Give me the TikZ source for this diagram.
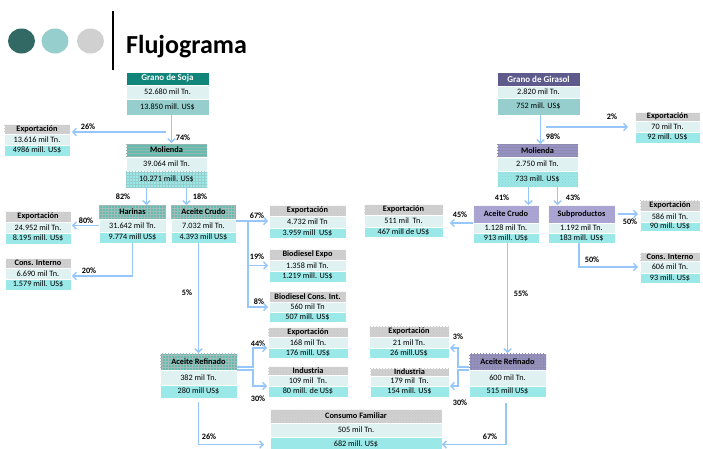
\documentclass[tikz,border=0pt]{standalone}
\usepackage{fontspec}
\setmainfont{Carlito}
\usepackage{tikz}
\usetikzlibrary{positioning,arrows.meta,patterns}
\definecolor{flecha}{RGB}{150,198,250}
\definecolor{tealfuerte}{RGB}{18,133,122}
\definecolor{tealosc}{RGB}{50,105,100}
\definecolor{tealcl}{RGB}{150,205,205}
\definecolor{celeste}{RGB}{155,232,232}
\definecolor{filacl}{RGB}{223,241,241}
\definecolor{gris}{RGB}{208,208,208}
\definecolor{verdeh}{RGB}{100,188,175}
\definecolor{lila}{RGB}{95,90,140}
\definecolor{lilacl}{RGB}{168,163,212}
\definecolor{lilamed}{RGB}{150,145,195}

\tikzset{
  celda/.style={draw=white, line width=0.5pt, inner sep=0pt, outer sep=0pt, anchor=north west, font=\fontsize{8.2}{9.5}\selectfont},
  cab/.style={celda, font=\fontsize{8.3}{9.5}\selectfont\bfseries},
  hsoja/.style={cab, fill=tealfuerte, text=white, font=\fontsize{9}{10}\selectfont\bfseries},
  hgir/.style={cab, fill=lila, text=white, font=\fontsize{9}{10}\selectfont\bfseries},
  hgris/.style={cab, fill=gris, postaction={pattern=crosshatch dots, pattern color=gray!45}},
  hmol/.style={cab, fill=verdeh, postaction={pattern=horizontal lines, pattern color=tealosc!50}},
  hgrid/.style={cab, fill=verdeh, postaction={pattern=grid, pattern color=tealosc!45}},
  hmolg/.style={cab, fill=lilamed, postaction={pattern=horizontal lines, pattern color=lila!70}},
  hlav/.style={cab, fill=lilacl, postaction={pattern=crosshatch dots, pattern color=lila!50}},
  hgridg/.style={cab, fill=lilamed, postaction={pattern=grid, pattern color=lila!70}},
  fila/.style={celda, fill=filacl},
  vteal/.style={celda, fill=tealcl},
  vcel/.style={celda, fill=celeste},
  vgrid/.style={celda, fill=celeste, postaction={pattern=grid, pattern color=tealcl}},
  vdots/.style={celda, fill=celeste, postaction={pattern=crosshatch dots, pattern color=tealcl}},
  arr/.style={draw=flecha, line width=1.4pt, -{Straight Barb[length=3.5pt,width=7.5pt]}},
  pct/.style={font=\fontsize{8.2}{9}\selectfont\bfseries, inner sep=0pt}
}

\begin{document}
\begin{tikzpicture}[x=1pt,y=-1pt]
  \fill[white] (0,0) rectangle (703,448);
  \useasboundingbox (0,0) rectangle (703,448);
  % title
  \fill[tealosc] (21.5,41) ellipse (13.5 and 12.5);
  \fill[tealcl] (55,41) ellipse (13.5 and 12.5);
  \fill[gris] (90.5,41) ellipse (13.5 and 12.5);
  \draw[line width=2pt] (113,11) -- (113,70);
  \node[anchor=base west, inner sep=0pt, font=\fontsize{26}{30}\selectfont\bfseries] (titulo) at (126,53) {Flujograma};
  % boxes: name/left/right/top/head bottom/tons bottom/value bottom/head style/value style/title/tons/value
  \foreach \n/\xa/\xb/\ya/\yb/\yc/\yd/\hs/\vs/\tit/\txa/\txb in {
    gsoja/126/209/72/85/99/115/hsoja/vteal/Grano de Soja/52.680 mil Tn./13.850 mill. US\$,
    expA/4/70/124/134/145/156/hgris/vcel/Exportación/13.616 mil Tn./4986 mill. US\$,
    molS/126/207/143/157/171/187/hmol/vgrid/Molienda/39.064 mil  Tn./10.271 mill. US\$,
    har/99/166/205/219/232/243/hgrid/vcel/Harinas/31.642 mil Tn./9.774 mill US\$,
    acS/171/236/205/219/232/243/hgrid/vcel/Aceite Crudo/7.032 mil Tn./4.393 mill US\$,
    expH/5/71/211/222/233/244/hgris/vcel/Exportación/24.952 mil Tn./8.195 mill. US\$,
    ciH/5/71/258/268/279/290/hgris/vcel/Cons. Interno/6.690 mil Tn./1.579 mill. US\$,
    expAc/269/346/205/216/228/238/hgris/vcel/Exportación/4.732 mil Tn/3.959 mill~ US\$,
    bioE/269/346/249/260/271/282/hgris/vcel/Biodiesel Expo/1.358 mil Tn./1.219 mill. US\$,
    bioC/269/346/291/302/312/322/hgris/vcel/Biodiesel Cons. Int./560 mil Tn/507 mill. US\$,
    refS/160/237/353/370/385/398/hgrid/vcel/Aceite Refinado/382 mil Tn./280 mill US\$,
    expR/268/348/327/337/348/358/hgris/vcel/Exportación/168 mil Tn./176 mill. US\$,
    indS/268/348/366/375/386/397/hgris/vcel/Industria/109 mil~ Tn./80 mill. de US\$,
    cons/270/442/409/423/437/452/hgris/vcel/Consumo Familiar/505 mil Tn./682 mill. US\$,
    ggir/497/580/72/86/98/115/hgir/vteal/Grano de Girasol/2.820 mil Tn./752 mill. US\$,
    expG/635/700/112/121/132/143/hgris/vcel/Exportación/70 mil Tn./92 mill. US\$,
    molG/497/578/144/157/171/187/hmolg/vdots/Molienda/2.750 mil Tn./733 mill. US\$,
    acG/473/539/205/223/233/243/hlav/vcel/Aceite Crudo/1.128 mil Tn./913 mill. US\$,
    sub/548/615/205/223/233/243/hlav/vcel/Subproductos/1.192 mil Tn./183 mill. US\$,
    expAG/364/443/204/215/227/237/hgris/vcel/Exportación/511 mil~ Tn./467 mill de US\$,
    expSub/640/700/200/211/222/231/hgris/vcel/Exportación/586 mil Tn./90 mill. US\$,
    ciSub/640/700/252/261/273/283/hgris/vcel/Cons. Interno/606 mil Tn./93 mill. US\$,
    refG/469/546/353/370/386/397/hgridg/vcel/Aceite Refinado/600 mil Tn./515 mill US\$,
    expRG/369/449/326/337/348/358/hgris/vcel/Exportación/21 mil Tn./26 mill.US\$,
    indG/370/449/368/376/386/397/hgris/vcel/Industria/179 mil~ Tn./154 mill. US\$}{
    \node[style=\hs, minimum width={(\xb-\xa)*1pt}, minimum height={(\yb-\ya)*1pt}] (\n) at (\xa,\ya) {\tit};
    \node[fila, minimum width={(\xb-\xa)*1pt}, minimum height={(\yc-\yb)*1pt}] (\n-t) at (\xa,\yb) {\txa};
    \node[style=\vs, minimum width={(\xb-\xa)*1pt}, minimum height={(\yd-\yc)*1pt}] (\n-v) at (\xa,\yc) {\txb};
  }
  % percentages
  \foreach \x/\y/\p [count=\k] in {88/127/26,183/138/74,123/197/82,200/197/18,86/221/80,89/271/20,
    257/216/67,257/257/19,259/302/8,187/293/5,258/344/44,258/399/30,209/437/26,
    612/117/2,553/137/98,502/198/41,573/198/43,460/215/45,521/294/55,630/222/50,592/260/50,
    458/337/3,460/403/30,490/437/67}{
    \node[pct] (p\k) at (\x,\y) {\p\%};
  }
  % soja
  \draw[arr] ([xshift=4pt]gsoja-v.south) -- ([xshift=4pt]gsoja-v.south |- molS.north);
  \coordinate (s1) at (166,132);
  \draw[arr, shorten >=2pt] (s1) -- (s1 -| expA.east);
  \draw[arr] ([xshift=-20pt]molS-v.south) -- ([xshift=-20pt]molS-v.south |- har.north);
  \draw[arr] ([xshift=20pt]molS-v.south) -- ([xshift=20pt]molS-v.south |- acS.north);
  \draw[arr, shorten >=1pt] (har-t.west) -- (har-t.west -| expH-t.east);
  \draw[arr, shorten >=1pt] (har-v.south) |- ([yshift=-2.5pt]ciH-t.east);
  \draw[arr, shorten >=1pt] ([yshift=-2pt]acS-t.north east) -- ([yshift=-2pt]acS-t.north east -| expAc-t.west);
  \coordinate (bS) at ([xshift=12pt,yshift=-2pt]acS-t.north east);
  \draw[arr, shorten >=1pt] (bS) |- (bioE-t.west);
  \draw[arr, shorten >=1pt] (bS) |- (bioC-t.west);
  \draw[arr] (refS.north |- acS-v.south) -- (refS.north);
  \coordinate (bR) at ([xshift=16pt]refS.south east);
  \draw[arr, shorten >=1pt] ([yshift=3pt]refS.south east) -- ([yshift=3pt]bR) |- (expR-t.south west);
  \draw[arr, shorten >=1pt] (refS.south east) -- (bR) |- (indS-t.south west);
  \draw[arr, shorten >=6pt] ([yshift=-4pt]refS-v.south) |- (cons-v.west);
  % girasol
  \draw[arr] ([xshift=2pt]ggir-v.south) -- ([xshift=2pt]ggir-v.south |- molG.north);
  \coordinate (s2) at (546,127);
  \draw[arr, shorten >=7pt] (s2) -- (s2 -| expG-t.west);
  \draw[arr] ([xshift=-9pt]molG-v.south) -- ([xshift=-9pt]molG-v.south |- acG.north);
  \draw[arr] ([xshift=20pt]molG-v.south) -- ([xshift=20pt]molG-v.south |- sub.north);
  \draw[arr, shorten >=7pt] (acG.south west) -- (acG.south west -| expAG-t.east);
  \draw[arr] (refG.north |- acG-v.south) -- (refG.north);
  \draw[arr, shorten <=3pt, shorten >=2pt] (sub.east) -- (sub.east -| expSub-t.west);
  \draw[arr, shorten >=2pt] ([xshift=-2.5pt]sub-v.south) |- (ciSub-t.west);
  \coordinate (bG) at ([xshift=-11pt]refG.south west);
  \draw[arr, shorten >=1pt] ([yshift=3pt]refG.south west) -- ([yshift=3pt]bG) |- (expRG-t.south east);
  \draw[arr, shorten >=1pt] (refG.south west) -- (bG) |- (indG-t.south east);
  \draw[arr] ([xshift=-1.5pt,yshift=-6pt]refG-v.south) |- (cons-v.east);
\end{tikzpicture}
\end{document}
